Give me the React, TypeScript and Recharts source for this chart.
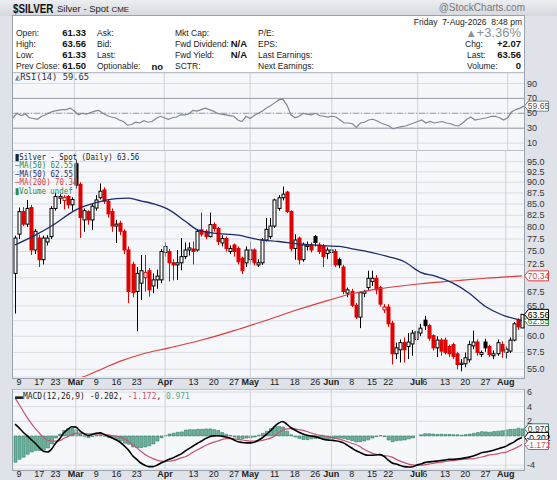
import React from 'react';
import { ComposedChart, Bar, Line, XAxis, YAxis, CartesianGrid, ReferenceLine } from 'recharts';

// ---------- data ----------
const open = [
  70.8, 78.5, 83.3, 80.6, 84.2, 75.3, 77.7, 73.4, 76.9, 78.0,
  84.0, 86.3, 85.8, 86.7, 84.8, 94.5, 89.5, 81.5, 83.3, 81.5,
  84.1, 86.4, 88.2, 85.6, 83.3, 80.2, 80.8, 79.1, 75.3, 72.5,
  67.5, 69.0, 70.0, 71.3, 68.5, 69.6, 69.6, 74.8, 75.0, 72.8,
  72.4, 72.8, 74.0, 75.3, 75.5, 75.3, 79.4, 79.1, 78.0, 80.5,
  79.7, 76.7, 77.6, 75.0, 76.3, 75.6, 73.7, 72.8, 73.4, 75.3,
  72.4, 72.8, 77.3, 78.0, 80.2, 84.0, 86.4, 87.7, 83.3, 75.6,
  77.7, 73.4, 76.0, 76.3, 78.0, 76.3, 76.0, 74.6, 74.8, 75.0,
  73.4, 72.0, 67.2, 67.5, 65.1, 63.1, 67.2, 68.2, 69.3, 69.9,
  68.2, 64.3, 64.8, 62.1, 57.3, 57.9, 59.0, 58.4, 58.8, 59.5,
  60.5, 62.6, 61.7, 60.1, 58.2, 59.4, 59.4, 58.4, 58.7, 57.3,
  55.7, 55.8, 56.4, 58.5, 59.1, 57.2, 59.1, 58.4, 57.0, 57.3,
  58.7, 57.5, 57.7, 59.4, 62.6, 61.33,
];
const high = [
  78.2, 84.2, 84.3, 85.9, 84.8, 79.6, 78.4, 78.2, 78.3, 84.5,
  87.5, 87.2, 87.0, 87.0, 86.5, 95.5, 90.0, 84.0, 83.6, 85.0,
  87.0, 89.7, 88.8, 86.0, 84.0, 81.5, 81.3, 79.5, 76.0, 73.0,
  72.0, 74.3, 74.3, 71.8, 70.8, 71.5, 75.5, 76.8, 75.5, 73.5,
  75.3, 77.7, 76.8, 76.8, 77.0, 79.5, 83.1, 79.5, 83.1, 81.0,
  80.0, 78.3, 78.0, 76.2, 76.6, 76.0, 74.0, 76.0, 77.0, 75.6,
  73.5, 77.7, 81.9, 81.9, 86.2, 87.0, 89.0, 88.0, 83.6, 78.5,
  78.0, 76.8, 77.0, 76.8, 78.3, 76.8, 76.5, 75.8, 76.5, 75.5,
  73.8, 72.4, 68.2, 68.0, 65.5, 67.5, 67.8, 71.3, 71.3, 70.5,
  68.5, 65.3, 65.3, 62.5, 59.0, 59.5, 59.8, 60.5, 61.0, 61.5,
  62.0, 63.3, 62.0, 60.3, 60.0, 59.7, 59.8, 58.7, 59.0, 57.6,
  56.5, 57.5, 59.3, 60.9, 59.5, 57.8, 59.6, 58.7, 57.8, 59.5,
  59.2, 58.4, 59.8, 62.3, 62.9, 63.56,
];
const low = [
  63.7, 77.5, 80.2, 80.0, 74.3, 74.5, 72.0, 72.5, 76.2, 77.5,
  83.5, 85.0, 83.8, 84.0, 83.5, 88.5, 77.7, 79.0, 80.5, 79.4,
  83.5, 86.0, 85.0, 82.0, 79.0, 76.7, 78.3, 74.5, 65.5, 66.5,
  60.8, 66.0, 67.5, 66.6, 67.2, 68.0, 69.0, 74.0, 69.3, 69.5,
  69.6, 71.4, 73.5, 74.2, 72.5, 75.0, 78.0, 77.5, 77.8, 79.0,
  76.3, 76.0, 75.0, 74.5, 74.0, 72.5, 70.7, 72.0, 72.5, 72.3,
  72.0, 72.4, 77.0, 77.5, 79.8, 83.5, 85.8, 83.0, 75.0, 73.4,
  72.5, 73.0, 75.2, 74.8, 76.0, 74.5, 72.0, 73.5, 72.0, 72.0,
  71.8, 67.0, 66.5, 64.8, 62.8, 61.3, 66.5, 67.8, 68.5, 67.0,
  64.9, 63.8, 61.5, 55.7, 56.5, 56.0, 56.0, 56.5, 57.0, 59.0,
  60.0, 61.0, 59.3, 57.8, 56.8, 57.0, 57.2, 56.8, 56.5, 55.0,
  54.7, 55.3, 56.0, 58.0, 57.0, 56.8, 57.6, 56.8, 56.5, 57.0,
  56.7, 56.6, 57.4, 59.2, 61.0, 61.33,
];
const close = [
  77.7, 83.3, 80.6, 84.0, 75.3, 79.1, 73.4, 77.7, 77.7, 84.0,
  86.7, 86.7, 86.5, 84.8, 86.0, 89.3, 82.0, 83.5, 81.5, 84.5,
  85.9, 87.9, 85.6, 82.8, 80.2, 80.6, 79.1, 75.3, 67.5, 67.3,
  70.8, 71.3, 71.0, 67.8, 69.6, 70.3, 75.0, 76.0, 72.8, 72.4,
  72.8, 74.0, 75.3, 75.7, 75.0, 79.1, 78.5, 78.0, 80.5, 79.7,
  77.0, 77.6, 75.6, 75.6, 75.0, 73.0, 71.3, 75.3, 75.3, 72.8,
  72.8, 77.3, 79.5, 80.2, 85.9, 86.4, 87.2, 83.3, 75.6, 77.3,
  73.4, 76.3, 76.3, 75.3, 76.8, 75.0, 74.0, 75.3, 75.3, 72.4,
  72.4, 67.5, 67.8, 65.1, 63.1, 67.3, 67.5, 69.9, 69.9, 67.8,
  65.3, 64.8, 62.0, 57.3, 58.2, 59.0, 57.9, 59.1, 60.5, 60.7,
  61.3, 61.7, 59.7, 58.2, 59.4, 57.7, 57.5, 57.3, 56.9, 55.7,
  55.9, 56.7, 58.7, 59.1, 57.5, 57.5, 58.2, 57.2, 57.3, 59.0,
  57.7, 58.0, 59.4, 62.0, 61.5, 63.56,
];
// moving averages read at a number of days: [day index, value]
const ma50Readings: [number, number][] = [
  [0, 76.3], [5, 78.3], [9, 80.2], [15, 83.7], [20, 85.3], [25, 86.2], [28, 86.3], [31, 85.7],
  [35, 84.8], [38, 83.7], [42, 81.2], [45, 79.4], [49, 78.7], [55, 78.3], [60, 77.4], [65, 77.0],
  [70, 76.5], [75, 76.2], [80, 76.0], [84, 75.4], [88, 74.8], [92, 74.0], [96, 73.0], [100, 71.0],
  [104, 70.2], [108, 69.0], [112, 67.2], [116, 64.9], [120, 63.5], [125, 62.55],
];
const ma200Readings: [number, number][] = [
  [14, 53.3], [18, 54.2], [22, 55.2], [26, 56.2], [31, 57.2], [38, 58.2], [46, 59.4], [54, 60.9],
  [62, 62.6], [69, 64.2], [77, 65.9], [83, 67.1], [88, 67.8], [93, 68.3], [100, 68.9], [108, 69.4],
  [116, 69.9], [125, 70.34],
];
const rsi = [
  44, 50, 47, 49, 44, 43, 42, 46, 48, 51,
  53, 54, 55, 55, 57, 53, 48, 50, 49, 51,
  53, 54, 50, 47, 45, 44, 41, 39, 34, 35,
  38, 37, 40, 38, 39, 43, 46, 44, 42, 44,
  45, 48, 48, 49, 54, 53, 55, 57, 55, 53,
  50, 49, 48, 47, 46, 41, 39, 46, 43, 47,
  50, 53, 57, 60, 64, 68, 69, 61, 48, 44,
  46, 50, 49, 48, 50, 47, 46, 45, 46, 45,
  41, 37, 37, 36, 31, 37, 38, 41, 42, 40,
  37, 35, 33, 29, 31, 32, 33, 35, 37, 39,
  41, 37, 39, 37, 38, 39, 37, 36, 34, 33,
  37, 42, 45, 41, 42, 43, 44, 46, 46, 44,
  41, 44, 52, 55, 57, 59.65,
];
const macd = [
  1.6, 1.1, 0.5, 0.0, -0.5, -1.0, -1.6, -2.1, -2.2, -1.8,
  -1.0, -0.4, 0.4, 0.9, 1.25, 1.2, 0.7, 0.3, 0.05, 0.2,
  0.35, 0.42, 0.2, -0.05, -0.3, -0.55, -0.9, -1.4, -1.95, -2.7,
  -3.2, -3.7, -4.0, -4.2, -4.2, -4.0, -3.7, -3.45, -3.2, -3.0,
  -2.7, -2.45, -2.05, -1.7, -1.35, -1.0, -0.7, -0.35, -0.1, 0.0,
  0.03, -0.05, -0.15, -0.3, -0.55, -0.8, -0.9, -0.95, -0.95, -0.85,
  -0.6, -0.25, 0.2, 0.7, 1.3, 1.75, 1.97, 1.6, 1.15, 0.8,
  0.5, 0.27, 0.1, 0.0, -0.1, -0.25, -0.45, -0.55, -0.6, -0.65,
  -0.75, -0.95, -1.3, -1.65, -2.0, -2.25, -2.5, -2.64, -2.64, -2.6,
  -2.55, -2.8, -3.3, -3.7, -3.85, -4.05, -4.2, -4.25, -4.22, -4.0,
  -3.85, -3.65, -3.55, -3.5, -3.45, -3.37, -3.3, -3.2, -3.2, -3.15,
  -3.1, -3.0, -2.9, -2.75, -2.55, -2.3, -2.2, -2.1, -1.95, -1.8,
  -1.6, -1.43, -1.1, -0.85, -0.45, -0.202,
];
const signal = [
  5.2, 4.3, 3.4, 2.5, 1.7, 1.0, 0.4, -0.2, -0.55, -0.7,
  -0.72, -0.65, -0.35, -0.1, 0.2, 0.35, 0.4, 0.35, 0.28, 0.27,
  0.27, 0.27, 0.22, 0.15, 0.05, -0.05, -0.2, -0.4, -0.8, -1.2,
  -1.6, -2.1, -2.5, -2.85, -3.1, -3.3, -3.45, -3.5, -3.45, -3.37,
  -3.2, -3.0, -2.85, -2.55, -2.2, -1.9, -1.6, -1.3, -1.05, -0.85,
  -0.7, -0.5, -0.36, -0.36, -0.4, -0.46, -0.55, -0.65, -0.7, -0.7,
  -0.7, -0.6, -0.45, -0.3, 0.0, 0.45, 0.75, 0.95, 1.0, 0.95,
  0.85, 0.76, 0.6, 0.4, 0.25, 0.1, 0.03, -0.1, -0.2, -0.3,
  -0.45, -0.6, -0.8, -1.0, -1.18, -1.45, -1.8, -2.1, -2.35, -2.5,
  -2.6, -2.7, -2.74, -2.9, -3.2, -3.45, -3.65, -3.85, -3.95, -4.0,
  -4.0, -3.95, -3.85, -3.75, -3.65, -3.6, -3.5, -3.4, -3.37, -3.3,
  -3.2, -3.18, -3.15, -3.1, -3.0, -2.88, -2.75, -2.6, -2.54, -2.45,
  -2.3, -2.25, -2.0, -1.77, -1.5, -1.172,
];
const xTicks = [
  { i: 1, label: '9' }, { i: 6, label: '17' }, { i: 10, label: '23' }, { i: 15, label: 'Mar' },
  { i: 20, label: '9' }, { i: 25, label: '16' }, { i: 30, label: '23' }, { i: 37, label: 'Apr' },
  { i: 44, label: '13' }, { i: 49, label: '20' }, { i: 54, label: '27' }, { i: 58, label: 'May' },
  { i: 64, label: '11' }, { i: 69, label: '18' }, { i: 74, label: '26' }, { i: 78, label: 'Jun' },
  { i: 83, label: '8' }, { i: 88, label: '15' }, { i: 92, label: '22' }, { i: 99, label: 'Jul' },
  { i: 101, label: '6' }, { i: 106, label: '13' }, { i: 111, label: '20' }, { i: 116, label: '27' },
  { i: 121, label: 'Aug' },
];
const priceTicks = [55, 57.5, 60, 62.5, 65, 67.5, 70, 72.5, 75, 77.5, 80, 82.5, 85, 87.5, 90, 92.5, 95];
const rsiTicks = [10, 30, 50, 70, 90];
const macdTicks = [-4, 2, 4, 6];

// ---------- derived table ----------
const ma50Map = new Map(ma50Readings);
const ma200Map = new Map(ma200Readings);
const data = close.map((c, i) => ({
  i,
  o: open[i], h: high[i], l: low[i], c,
  prev: i > 0 ? close[i - 1] : null,
  range: [low[i], high[i]],
  ma50: ma50Map.has(i) ? ma50Map.get(i) : null,
  ma200: ma200Map.has(i) ? ma200Map.get(i) : null,
  rsi: rsi[i],
  macd: macd[i],
  signal: signal[i],
  hist: macd[i] - signal[i],
}));
const last = data[data.length - 1];
const lastMa50 = ma50Readings[ma50Readings.length - 1][1];
const lastMa200 = ma200Readings[ma200Readings.length - 1][1];
const priceTags = [last.c, lastMa50, lastMa200];
const labelOf = new Map(xTicks.map((t) => [t.i, t.label]));
const tickIdx = xTicks.map((t) => t.i);
const isMonth = (s: string) => isNaN(Number(s));
const monthIdx = xTicks.filter((t) => isMonth(t.label)).map((t) => t.i);

// ---------- style ----------
const FONT = 'Arial, "Liberation Sans", Helvetica, sans-serif';
const MONO = '"DejaVu Sans Mono", "Liberation Mono", monospace';
const BG = '#dfe3e9';
const PLOT_BG = '#f6f7fa';
const FRAME = '#9aa2ad';
const GRID = '#d9dde3';
const VGRID = '#cdd2d9';
const RED = '#e00000';
const NAVY = '#1d2a6b';
const MA200C = '#dd3b3b';
const GREEN = '#2e8b3e';
const SIG = '#c9526c';
const HIST_FILL = '#6db29d';
const HIST_LINE = '#2f7a66';

const CHART_W = 557;
const MARGIN = { top: 0, right: 0, left: 13, bottom: 0 };
const AXIS_W = 33;

// ---------- marks ----------
const Candle = (props: any) => {
  const { x, y, width, height, payload } = props;
  if (!payload || x == null || y == null) return null;
  const { o, h, l, c, prev } = payload;
  const top0 = Math.min(y, y + height);
  const hgt = Math.abs(height);
  const lh = Math.log(h);
  const ll = Math.log(l);
  const py = (p: number) => (lh === ll ? top0 : top0 + (hgt * (lh - Math.log(p))) / (lh - ll));
  const cx = Math.round(x + width / 2) + 0.5;
  const color = prev == null || c >= prev ? '#000000' : RED;
  const up = c > o;
  const bTop = py(Math.max(o, c));
  const bBot = py(Math.min(o, c));
  return (
    <g>
      <line x1={cx} x2={cx} y1={top0} y2={top0 + hgt} stroke={color} strokeWidth={1} />
      <rect x={cx - 1.5} y={bTop} width={3} height={Math.max(bBot - bTop, 1)}
        fill={up ? '#ffffff' : color} stroke={color} strokeWidth={1} />
    </g>
  );
};

const XTick = (props: any) => {
  const { x, y, payload } = props;
  const label = labelOf.get(payload.value);
  if (!label) return null;
  return (
    <text x={x} y={y + 8} textAnchor="middle" fontSize={9} fontFamily={FONT}
      fontWeight={isMonth(label) ? 'bold' : 'normal'} fill="#222">
      {label}
    </text>
  );
};

// y tick label that stays hidden where a value tag sits on top of it
const YTick = (props: any) => {
  const { x, y, payload, tags, fmt } = props;
  const v = payload.value;
  if (tags && tags.some((g: number) => Math.abs(Math.log(v / g)) < 0.015)) return null;
  return (
    <text x={x} y={y + 3} textAnchor="start" fontSize={9} fontFamily={FONT} fill="#333">
      {fmt ? fmt(v) : v}
    </text>
  );
};

const Tag = (props: any) => {
  const { viewBox, text, color, textColor } = props;
  if (!viewBox) return null;
  const x = viewBox.x + viewBox.width;
  const y = viewBox.y;
  return (
    <g>
      <path d={`M${x + 0.5},${y} L${x + 4.5},${y - 5} L${x + 24.5},${y - 5} L${x + 24.5},${y + 5} L${x + 4.5},${y + 5} Z`}
        fill="#ffffff" stroke={color} strokeWidth={1} />
      <text x={x + 14.5} y={y + 3.3} textAnchor="middle" fontSize={8.5} fontFamily={FONT} fill={textColor}>{text}</text>
    </g>
  );
};

const Txt = ({ x, y, children, style, right }: any) => (
  <div style={{
    position: 'absolute', top: y, whiteSpace: 'nowrap', lineHeight: '12px',
    ...(right != null ? { right: CHART_W - right } : { left: x }), ...style,
  }}>{children}</div>
);

const lab = { fontSize: 8.5, color: '#222' };
const val = { fontSize: 9.5, fontWeight: 'bold' as const, color: '#111' };

const Frame = ({ top, height }: any) => (
  <div style={{
    position: 'absolute', left: 12, top, width: 511, height: height - 1,
    background: PLOT_BG, border: `1px solid ${FRAME}`,
  }} />
);

export default function App() {
  return (
    <div style={{ position: 'absolute', left: 0, top: 0, width: 557, height: 480, overflow: 'hidden', background: BG, fontFamily: FONT }}>
      {/* header */}
      <div style={{ position: 'absolute', left: 0, top: 0, width: 557, height: 16, background: 'linear-gradient(#eceef1, #d4d8de)' }} />
      <Txt x={13} y={2} style={{ fontSize: 13, fontWeight: 'bold', color: '#111', lineHeight: '14px', transform: 'scaleX(0.76)', transformOrigin: 'left' }}>$SILVER</Txt>
      <Txt x={57} y={3} style={{ fontSize: 9.5, color: '#222', lineHeight: '12px' }}>Silver - Spot <span style={{ fontSize: 8 }}>CME</span></Txt>
      <Txt right={525} y={2} style={{ fontSize: 10, color: '#777' }}>@StockCharts.com</Txt>

      {/* info box */}
      <div style={{ position: 'absolute', left: 12, top: 15, width: 511, height: 56, background: '#ffffff', border: `1px solid ${FRAME}` }} />
      <Txt right={522} y={16} style={lab}>Friday&nbsp;&nbsp;7-Aug-2026&nbsp;&nbsp;8:48 pm</Txt>
      <Txt right={521} y={26} style={{ fontSize: 13, color: '#8a9099', lineHeight: '14px' }}><span style={{ fontSize: 11 }}>▲</span>+3.36%</Txt>

      <Txt x={16} y={27} style={lab}>Open:</Txt>
      <Txt x={16} y={38} style={lab}>High:</Txt>
      <Txt x={16} y={49} style={lab}>Low:</Txt>
      <Txt x={16} y={60} style={lab}>Prev Close:</Txt>
      <Txt right={86} y={27} style={val}>61.33</Txt>
      <Txt right={86} y={38} style={val}>63.56</Txt>
      <Txt right={86} y={49} style={val}>61.33</Txt>
      <Txt right={86} y={60} style={val}>61.50</Txt>

      <Txt x={97} y={27} style={lab}>Ask:</Txt>
      <Txt x={97} y={38} style={lab}>Bid:</Txt>
      <Txt x={97} y={49} style={lab}>Last:</Txt>
      <Txt x={97} y={60} style={lab}>Optionable:</Txt>
      <Txt right={163} y={61} style={val}>no</Txt>

      <Txt x={175} y={27} style={lab}>Mkt Cap:</Txt>
      <Txt x={175} y={38} style={lab}>Fwd Dividend:</Txt>
      <Txt x={175} y={49} style={lab}>Fwd Yield:</Txt>
      <Txt x={175} y={60} style={lab}>SCTR:</Txt>
      <Txt right={247} y={38} style={val}>N/A</Txt>
      <Txt right={247} y={49} style={val}>N/A</Txt>

      <Txt x={258} y={27} style={lab}>P/E:</Txt>
      <Txt x={258} y={38} style={lab}>EPS:</Txt>
      <Txt x={258} y={49} style={lab}>Last Earnings:</Txt>
      <Txt x={258} y={60} style={lab}>Next Earnings:</Txt>

      <Txt x={465} y={38} style={lab}>Chg:</Txt>
      <Txt x={467} y={49} style={lab}>Last:</Txt>
      <Txt x={467} y={60} style={lab}>Volume:</Txt>
      <Txt right={521} y={38} style={val}>+2.07</Txt>
      <Txt right={521} y={49} style={val}>63.56</Txt>
      <Txt right={521} y={60} style={val}>0</Txt>

      {/* RSI panel */}
      <Frame top={72} height={79} />
      <div style={{ position: 'absolute', left: 0, top: 72 }}>
        <ComposedChart width={CHART_W} height={79} data={data} margin={{ ...MARGIN, top: 1 }}>
          <CartesianGrid horizontal vertical={false} stroke={GRID} />
          <XAxis dataKey="i" type="category" hide />
          <YAxis orientation="right" width={AXIS_W} domain={[-0.6, 104.1]} ticks={rsiTicks} allowDataOverflow interval={0}
            tickLine={false} axisLine={false} tickSize={0} tickMargin={3}
            tick={<YTick />} />
          {monthIdx.map((m) => <ReferenceLine key={m} x={m} stroke={VGRID} />)}
          <ReferenceLine y={70} stroke="#9a9fa8" />
          <ReferenceLine y={30} stroke="#9a9fa8" />
          <ReferenceLine y={50} stroke="#9a9fa8" strokeDasharray="6 2 1 2" />
          <Line dataKey="rsi" stroke="#7d8694" strokeWidth={1.2} dot={false} isAnimationActive={false} />
          <ReferenceLine y={last.rsi} stroke="none" label={<Tag text={last.rsi.toFixed(2)} color="#7d8694" textColor="#555" />} />
        </ComposedChart>
      </div>
      <Txt x={15} y={71} style={{ fontFamily: MONO, fontSize: 8.8, color: '#333' }}><span style={{ color: '#4a6fa5' }}>◭</span>RSI(14) 59.65</Txt>

      {/* price panel */}
      <Frame top={150} height={228} />
      <div style={{ position: 'absolute', left: 0, top: 150 }}>
        <ComposedChart width={CHART_W} height={240} data={data} margin={MARGIN}>
          <CartesianGrid horizontal vertical={false} stroke={GRID} />
          <XAxis dataKey="i" type="category" ticks={tickIdx} interval={0} tickLine={false} axisLine={false}
            tickSize={0} tickMargin={0} height={13} tick={<XTick />} />
          <YAxis orientation="right" width={AXIS_W} scale="log" domain={[53.9, 97.97]} ticks={priceTicks} allowDataOverflow interval={0}
            tickLine={false} axisLine={false} tickSize={0} tickMargin={3}
            tick={<YTick tags={priceTags} fmt={(v: number) => v.toFixed(1)} />} />
          {monthIdx.map((m) => <ReferenceLine key={m} x={m} stroke={VGRID} />)}
          <Line dataKey="ma200" stroke={MA200C} strokeWidth={1.1} dot={false} connectNulls type="monotone" isAnimationActive={false} />
          <Line dataKey="ma50" stroke={NAVY} strokeWidth={1.3} dot={false} connectNulls type="monotone" isAnimationActive={false} />
          <Bar dataKey="range" shape={<Candle />} isAnimationActive={false} />
          <ReferenceLine y={lastMa200} stroke="none" label={<Tag text={lastMa200.toFixed(2)} color={MA200C} textColor={MA200C} />} />
          <ReferenceLine y={lastMa50} stroke="none" label={<Tag text={lastMa50.toFixed(2)} color={GREEN} textColor={GREEN} />} />
          <ReferenceLine y={last.c} stroke="none" label={<Tag text={last.c.toFixed(2)} color="#000" textColor="#000" />} />
        </ComposedChart>
      </div>
      <div style={{ position: 'absolute', left: 15, top: 152.5, fontFamily: MONO, fontSize: 8.8, lineHeight: '8.6px', whiteSpace: 'nowrap', transform: 'scaleX(0.84)', transformOrigin: 'left' }}>
        <div style={{ color: '#222' }}><span style={{ fontFamily: FONT, fontWeight: 'bold' }}>▮</span>Silver - Spot (Daily) 63.56</div>
        <div style={{ color: GREEN }}>—MA(50) 62.55</div>
        <div style={{ color: NAVY }}>—MA(50) 62.55</div>
        <div style={{ color: MA200C }}>—MA(200) 70.34</div>
        <div style={{ color: GREEN }}><span style={{ fontFamily: FONT }}>▮</span>Volume undef</div>
      </div>

      {/* MACD panel */}
      <Frame top={389} height={81} />
      <div style={{ position: 'absolute', left: 0, top: 384 }}>
        <ComposedChart width={CHART_W} height={97} data={data} margin={{ ...MARGIN, top: 5 }}>
          <CartesianGrid horizontal vertical={false} stroke={GRID} />
          <XAxis dataKey="i" type="category" ticks={tickIdx} interval={0} tickLine={false} axisLine={false}
            tickSize={0} tickMargin={0} height={12} tick={<XTick />} />
          <YAxis orientation="right" width={AXIS_W} domain={[-4.52, 6.41]} ticks={macdTicks} allowDataOverflow interval={0}
            tickLine={false} axisLine={false} tickSize={0} tickMargin={3}
            tick={<YTick />} />
          {monthIdx.map((m) => <ReferenceLine key={m} x={m} stroke={VGRID} />)}
          <Bar dataKey="hist" fill={HIST_FILL} stroke={HIST_LINE} strokeWidth={0.6} barSize={3} isAnimationActive={false} />
          <Line dataKey="signal" stroke={SIG} strokeWidth={1.2} dot={false} type="monotone" isAnimationActive={false} />
          <Line dataKey="macd" stroke="#000000" strokeWidth={1.6} dot={false} type="monotone" isAnimationActive={false} />
          <ReferenceLine y={last.hist} stroke="none" label={<Tag text={last.hist.toFixed(3)} color={HIST_LINE} textColor="#333" />} />
          <ReferenceLine y={last.macd} stroke="none" label={<Tag text={last.macd.toFixed(3)} color="#000" textColor="#000" />} />
          <ReferenceLine y={last.signal} stroke="none" label={<Tag text={last.signal.toFixed(3)} color={SIG} textColor={SIG} />} />
        </ComposedChart>
      </div>
      <Txt x={15} y={390} style={{ fontFamily: MONO, fontSize: 8.8, color: '#222', transform: 'scaleX(0.9)', transformOrigin: 'left' }}>
        <span style={{ fontFamily: FONT, fontWeight: 'bold' }}>▬</span>MACD(12,26,9) -0.202, <span style={{ color: SIG }}>-1.172</span>, <span style={{ color: '#5aa58c' }}>0.971</span>
      </Txt>
    </div>
  );
}
